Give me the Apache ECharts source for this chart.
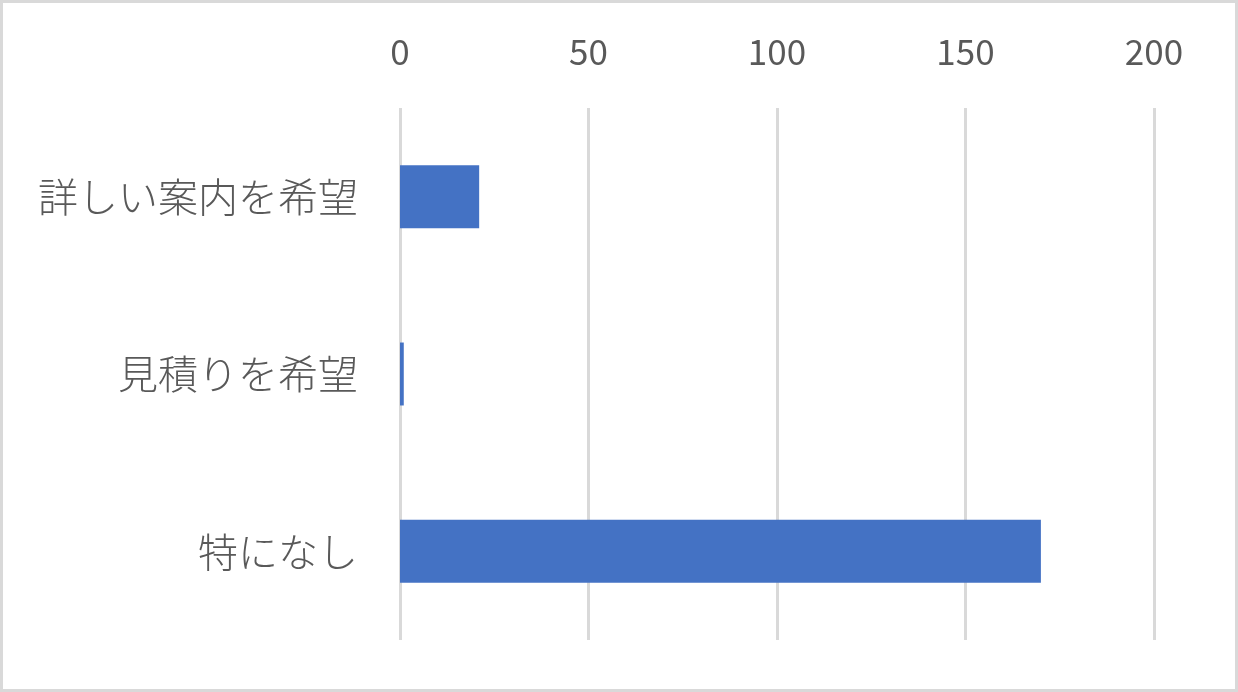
<!DOCTYPE html>
<html>
<head>
<meta charset="utf-8">
<script src="https://cdn.jsdelivr.net/npm/echarts@6/dist/echarts.min.js"></script>
<style>
  html, body { margin: 0; padding: 0; background: #ffffff; }
  #chart { width: 1238px; height: 692px; }
</style>
</head>
<body>
<div id="chart"></div>
<script>
// Survey answers (top to bottom) and their response counts
const categories = ['詳しい案内を希望', '見積りを希望', '特になし'];
const counts = [21, 1, 170];
// Value axis range
const axisMin = 0;
const axisMax = 200;
const axisStep = 50;

const textColor = '#595959';
const gridColor = '#d9d9d9';
const fontFamily = '"Noto Sans CJK JP", "Noto Sans", sans-serif';

const chart = echarts.init(document.getElementById('chart'), null, { renderer: 'canvas' });

chart.setOption({
  backgroundColor: '#ffffff',
  animation: false,
  graphic: [{
    type: 'rect',
    shape: { x: 1.5, y: 1.5, width: 1235, height: 689 },
    style: { fill: 'none', stroke: gridColor, lineWidth: 3 },
    silent: true,
    z: 100
  }],
  grid: { left: 400, right: 84, top: 108, bottom: 52, containLabel: false },
  xAxis: {
    type: 'value',
    position: 'top',
    min: axisMin,
    max: axisMax,
    interval: axisStep,
    axisLine: { show: false },
    axisTick: { show: false },
    splitLine: { show: true, lineStyle: { color: gridColor, width: 3 } },
    axisLabel: {
      color: textColor,
      fontFamily: fontFamily,
      fontSize: 35,
      lineHeight: 36,
      margin: 38
    }
  },
  yAxis: {
    type: 'category',
    inverse: true,
    data: categories,
    axisLine: { show: false },
    axisTick: { show: false },
    splitLine: { show: false },
    axisLabel: {
      color: textColor,
      fontFamily: fontFamily,
      fontSize: 40,
      fontWeight: 300,
      margin: 42
    }
  },
  series: [{
    type: 'bar',
    data: counts,
    barWidth: '35.5%',
    itemStyle: { color: '#4472c4' },
    silent: true
  }]
});
</script>
</body>
</html>
